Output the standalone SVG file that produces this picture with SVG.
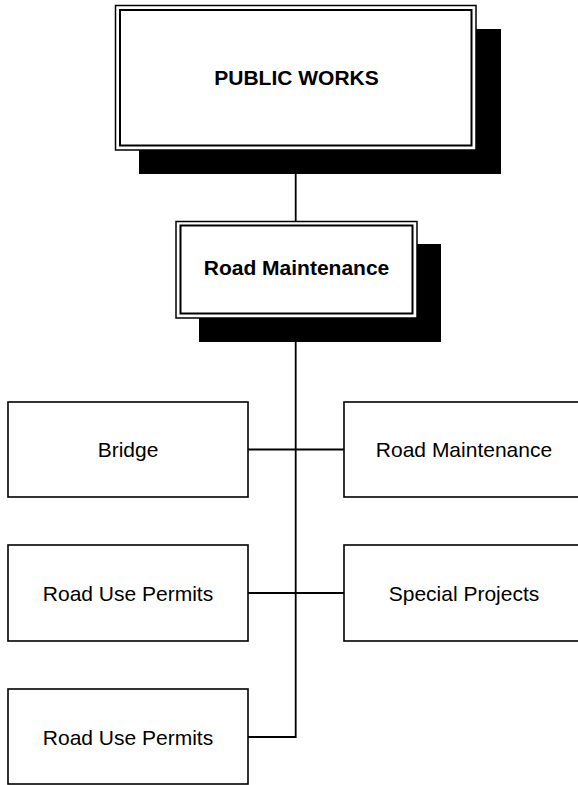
<svg xmlns="http://www.w3.org/2000/svg" width="578" height="785" viewBox="0 0 578 785">
<style>
.shadow{fill:#000;stroke:none}
.outer{fill:#fff;stroke:#000;stroke-width:1.5}
.inner{fill:none;stroke:#000;stroke-width:2}
.box{fill:#fff;stroke:#000;stroke-width:1.6}
.conn{fill:none;stroke:#000;stroke-width:1.8}
.t{font-family:"Liberation Sans",Arial,sans-serif;font-size:21px;fill:#000;text-anchor:middle}
.b{font-weight:bold}
</style>
<rect width="578" height="785" fill="#fff"/>
<g id="connectors">
<line class="conn" x1="295.7" y1="174" x2="295.7" y2="221"/>
<polyline class="conn" points="295.7,342 295.7,737 248,737"/>
<line class="conn" x1="248" y1="449.5" x2="344" y2="449.5"/>
<line class="conn" x1="248" y1="593" x2="344" y2="593"/>
</g>
<g id="public-works">
<rect class="shadow" x="139" y="29" width="362" height="145"/>
<rect class="outer" x="115.5" y="5.5" width="360.5" height="144.5"/>
<rect class="inner" x="120" y="10" width="351.5" height="135.5"/>
<text class="t b" x="296.5" y="85">PUBLIC WORKS</text>
</g>
<g id="road-maintenance-head">
<rect class="shadow" x="199" y="244" width="242" height="98"/>
<rect class="outer" x="176" y="221.5" width="241" height="96.5"/>
<rect class="inner" x="180.5" y="225.5" width="232" height="88"/>
<text class="t b" x="296.5" y="275">Road Maintenance</text>
</g>
<g id="bridge">
<rect class="box" x="8" y="402" width="240" height="95"/>
<text class="t" x="128" y="457">Bridge</text>
</g>
<g id="road-maintenance">
<rect class="box" x="344" y="402" width="240" height="95"/>
<text class="t" x="464" y="457">Road Maintenance</text>
</g>
<g id="road-use-permits-1">
<rect class="box" x="8" y="545" width="240" height="96"/>
<text class="t" x="128" y="601">Road Use Permits</text>
</g>
<g id="special-projects">
<rect class="box" x="344" y="545" width="240" height="96"/>
<text class="t" x="464" y="601">Special Projects</text>
</g>
<g id="road-use-permits-2">
<rect class="box" x="8" y="689" width="240" height="95"/>
<text class="t" x="128" y="745">Road Use Permits</text>
</g>
</svg>
